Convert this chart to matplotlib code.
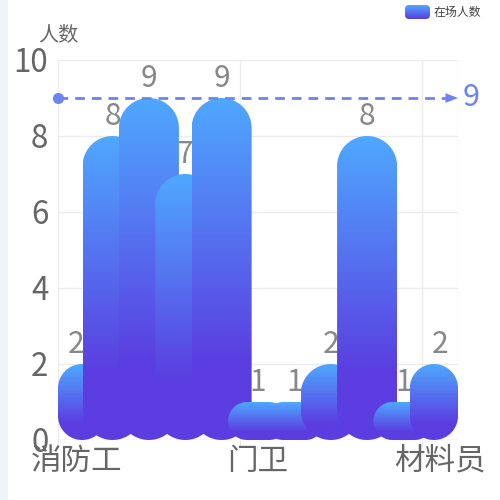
import numpy as np
import matplotlib
matplotlib.use("Agg")
import matplotlib.pyplot as plt
from matplotlib.colors import LinearSegmentedColormap
from matplotlib.patches import Polygon, FancyBboxPatch, Rectangle

plt.rcParams["font.family"] = ["Noto Sans CJK SC", "DejaVu Sans"]

# data
categories = ["消防工", "木工", "钢筋工", "电工", "泥工",
              "门卫", "架子工", "焊工", "杂工", "安全员", "材料员"]
on_site = [2, 8, 9, 7, 9, 1, 1, 2, 8, 1, 2]
series_name = "在场人数"
y_name = "人数"
y_ticks = [0, 2, 4, 6, 8, 10]

TOP_C = "#4fa8ff"
BOT_C = "#5b3de0"
MARK_C = "#6b84f0"
cmap = LinearSegmentedColormap.from_list("bar", [(0, TOP_C), (0.78, BOT_C), (1, BOT_C)])

W, H, DPI = 500, 500, 100
fig = plt.figure(figsize=(W / DPI, H / DPI), dpi=DPI)
fig.patch.set_facecolor("white")
# light strip on the left edge
fig.add_artist(Rectangle((0, 0), 8 / W, 1, transform=fig.transFigure,
                         facecolor="#f2f3f8", edgecolor="none"))

ax_l, ax_b, ax_w, ax_h = 58, 60, 400, 380  # pixels (left, top, width, height)
ax = fig.add_axes([ax_l / W, 1 - (ax_b + ax_h) / H, ax_w / W, ax_h / H])
n = len(categories)
ax.set_xlim(-0.5, n - 0.5)
ax.set_ylim(0, 10)
px_x = ax_w / n          # pixels per category
px_y = ax_h / 10         # pixels per unit

for s in ax.spines.values():
    s.set_visible(False)
ax.set_yticks(y_ticks)
ax.set_yticklabels([str(t) for t in y_ticks])
ax.tick_params(axis="y", length=0, pad=7, labelsize=22.5, labelcolor="#666666")
bounds = np.arange(-0.5, n + 0.5, 5)
ax.set_xticks(bounds)
ax.set_xticklabels([])
ax.tick_params(axis="x", length=5, color="#e3e3e3")
for t in y_ticks:
    ax.axhline(t, color="#ececec", lw=1, zorder=0)
for b in list(bounds) + [n - 0.5]:
    ax.axvline(b, color="#ececec", lw=1, zorder=0)
ax.axhline(0, color="#e3e3e3", lw=1, zorder=0.5)

for i in range(0, n, 5):
    ax.text(i, -0.15, categories[i], ha="center", va="top", fontsize=22,
            color="#666666")

ax.text(-0.5, 10.4, y_name, ha="center", va="bottom", fontsize=14.5,
        color="#666666")


def rounded_poly(x0, x1, y0, y1, rx, ry, k=20):
    pts = []
    corners = [(x1 - rx, y1 - ry, 0), (x0 + rx, y1 - ry, 90),
               (x0 + rx, y0 + ry, 180), (x1 - rx, y0 + ry, 270)]
    for cx, cy, a0 in corners:
        ang = np.radians(np.linspace(a0, a0 + 90, k))
        pts.extend(zip(cx + rx * np.cos(ang), cy + ry * np.sin(ang)))
    return np.array(pts)


bar_w = 60 / px_x
grad = np.linspace(0, 1, 256).reshape(-1, 1)
for i, v in enumerate(on_site):
    x0 = max(i - bar_w / 2, -0.5)
    x1 = min(i + bar_w / 2, n - 0.5)
    r_px = min((x1 - x0) * px_x / 2, v * px_y / 2)
    poly = Polygon(rounded_poly(x0, x1, 0, v, r_px / px_x, r_px / px_y),
                   closed=True, facecolor="none", edgecolor="none")
    ax.add_patch(poly)
    im = ax.imshow(grad, cmap=cmap, aspect="auto", extent=(x0, x1, 0, v),
                   origin="upper", zorder=2 + i, interpolation="bilinear")
    im.set_clip_path(poly)
    ax.annotate(str(v), (i, v), xytext=(0, 8), textcoords="offset points",
                ha="center", va="baseline", fontsize=21.5, color="#888888",
                zorder=2 + i)

# max mark line
vmax = max(on_site)
ax.plot([-0.5, n - 0.5 - 0.3], [vmax, vmax], color=MARK_C, lw=2,
        dashes=(3.5, 2.5), zorder=30, clip_on=False)
ax.plot([-0.5], [vmax], "o", color=MARK_C, ms=7, zorder=31, clip_on=False)
ax.annotate("", xy=(n - 0.5, vmax), xytext=(n - 0.5 - 0.45, vmax),
            arrowprops=dict(arrowstyle="-|>,head_length=0.9,head_width=0.35",
                            color=MARK_C, lw=0, shrinkA=0, shrinkB=0),
            zorder=31)
ax.text(n - 0.5 + 5 / px_x, vmax, str(vmax), ha="left", va="center",
        fontsize=22, color=MARK_C)

# legend
lg = fig.add_axes([405 / W, 1 - 19 / H, 25 / W, 14 / H])
lg.axis("off")
lg.set_xlim(0, 1)
lg.set_ylim(0, 1)
box = FancyBboxPatch((0, 0), 1, 1, boxstyle="round,pad=0,rounding_size=0.16",
                     mutation_aspect=25 / 14, facecolor="none", edgecolor="none")
lg.add_patch(box)
lim = lg.imshow(grad, cmap=LinearSegmentedColormap.from_list("lg", [TOP_C, BOT_C]),
                aspect="auto", extent=(0, 1, 0, 1), origin="upper")
lim.set_clip_path(box)
fig.text(434 / W, 1 - 12 / H, series_name, ha="left", va="center",
         fontsize=8.6, color="#444444")

fig.savefig("out.png", dpi=DPI)
